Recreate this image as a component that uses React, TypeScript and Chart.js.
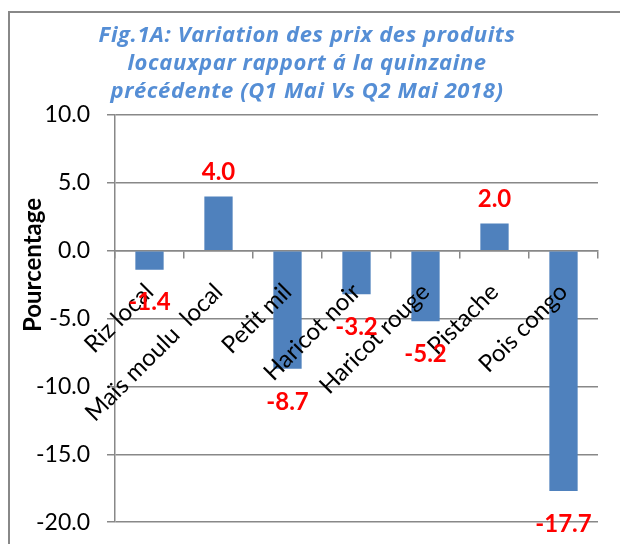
import React, { useEffect, useRef } from "react";
import { Chart, registerables } from "chart.js";

Chart.register(...registerables);

const categories = [
  "Riz local",
  "Maïs moulu  local",
  "Petit mil",
  "Haricot noir",
  "Haricot rouge",
  "Pistache",
  "Pois congo",
];
const values = [-1.4, 4.0, -8.7, -3.2, -5.2, 2.0, -17.7];
const yTicks = [-20, -15, -10, -5, 0, 5, 10];
const titleLines = [
  "Fig.1A: Variation des prix des produits",
  "locauxpar rapport á la quinzaine",
  "précédente (Q1 Mai Vs Q2 Mai 2018)",
];
const yAxisTitle = "Pourcentage";

const FONT = "Lato";

const framePlugin = {
  id: "frame",
  beforeDraw(chart: any) {
    const ctx = chart.ctx;
    ctx.save();
    ctx.fillStyle = "#ffffff";
    ctx.fillRect(0, 0, chart.width, chart.height);
    ctx.strokeStyle = "#888888";
    ctx.lineWidth = 2;
    ctx.strokeRect(1, 4, chart.width + 20, chart.height + 20);
    ctx.restore();
  },
};

const labelsPlugin = {
  id: "labels",
  afterDraw(chart: any) {
    const ctx = chart.ctx;
    const area = chart.chartArea;

    // chart title
    ctx.save();
    ctx.font = `italic bold 22px "Open Sans"`;
    (ctx as any).letterSpacing = "0.6px";
    ctx.fillStyle = "#558ED5";
    ctx.textAlign = "center";
    ctx.textBaseline = "middle";
    titleLines.forEach((line, i) => {
      ctx.fillText(line, 299, 28 + i * 28);
    });
    ctx.restore();

    // y axis title
    ctx.save();
    ctx.translate(area.left - 82, area.top + 150);
    ctx.rotate(-Math.PI / 2);
    ctx.font = `bold 24px ${FONT}`;
    ctx.fillStyle = "#000000";
    ctx.textAlign = "center";
    ctx.textBaseline = "middle";
    ctx.fillText(yAxisTitle, 0, 0);
    ctx.restore();

    // value labels
    ctx.save();
    const meta = chart.getDatasetMeta(0);
    ctx.font = `bold 24px ${FONT}`;
    ctx.fillStyle = "#FF0000";
    ctx.textAlign = "center";
    ctx.textBaseline = "middle";
    meta.data.forEach((bar: any, i: number) => {
      const v = values[i];
      const y = v >= 0 ? bar.y - 24 : bar.y + 33;
      ctx.fillText(v.toFixed(1), bar.x, y);
    });
    ctx.restore();
  },
};

export default function App() {
  const ref = useRef<HTMLCanvasElement>(null);
  useEffect(() => {
    document.body.style.overflow = "hidden";
    document.documentElement.style.overflow = "hidden";
    const chart = new Chart(ref.current as HTMLCanvasElement, {
      type: "bar",
      data: {
        labels: categories,
        datasets: [
          {
            data: values,
            backgroundColor: "#4F81BD",
            borderWidth: 0,
            barPercentage: 0.41,
            categoryPercentage: 1,
          },
        ],
      },
      options: {
        animation: false,
        responsive: false,
        devicePixelRatio: 1,
        layout: { padding: { left: 0, right: 14, top: 107, bottom: 0 } },
        plugins: {
          legend: { display: false },
          tooltip: { enabled: false },
          title: { display: false },
        },
        scales: {
          x: {
            position: { y: 0 } as any,
            offset: true,
            grid: {
              display: true,
              drawOnChartArea: false,
              drawTicks: true,
              tickLength: 7,
              color: "#888888",
              lineWidth: 1.5,
              offset: true,
            },
            border: { display: true, color: "#888888", width: 1.5 },
            ticks: {
              z: 1,
              autoSkip: false,
              minRotation: 45,
              maxRotation: 45,
              color: "#000000",
              font: { family: FONT, size: 24 },
              padding: 20,
            },
          },
          y: {
            min: -20,
            max: 10,
            afterBuildTicks: (s: any) => {
              s.ticks = yTicks.map((v) => ({ value: v }));
            },
            grid: { color: "#888888", lineWidth: 1.5, tickLength: 8 },
            border: { color: "#888888", width: 1.5 },
            ticks: {
              color: "#000000",
              font: { family: FONT, size: 23 },
              padding: 17,
              callback: (v: any) => Number(v).toFixed(1),
            },
            afterFit: (s: any) => {
              s.width = 107;
            },
          },
          yR: {
            position: "right",
            display: true,
            grid: { display: false },
            border: { display: false },
            ticks: { display: false },
            afterFit: (s: any) => {
              s.width = 8;
            },
          },
        },
      },
      plugins: [framePlugin, labelsPlugin],
    } as any);
    return () => chart.destroy();
  }, []);
  return (
    <canvas
      ref={ref}
      width={612}
      height={545}
      style={{ position: "absolute", left: 8, top: 8, display: "block" }}
    />
  );
}
